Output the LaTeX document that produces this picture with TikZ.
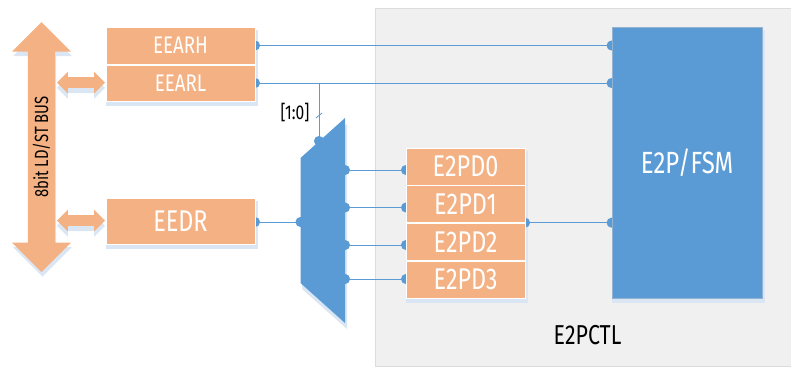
\documentclass[tikz,border=0pt]{standalone}
\usepackage{fontspec}
\setmainfont[FakeStretch=0.78]{Fira Sans}
\usetikzlibrary{arrows.meta,calc,positioning,shapes.arrows,shadows}
\definecolor{regorange}{HTML}{F4B183}
\definecolor{fsmblue}{HTML}{5B9BD5}
\definecolor{shadeblue}{HTML}{DAE6F3}
\definecolor{panelgray}{HTML}{F0F0F0}
\definecolor{panelline}{HTML}{DADCDE}
\pgfdeclarelayer{back}
\pgfdeclarelayer{wires}
\pgfsetlayers{back,wires,main}
\tikzset{
        block/.style = {draw=white, fill=regorange, rectangle, text=white,
            line width=0.6pt, inner sep=0pt, outer sep=0pt,
            minimum width=149*0.75pt},
        stackreg/.style = {block, minimum width=119*0.75pt, minimum height=37*0.75pt,
            font=\fontsize{22.5}{23}\selectfont},
        busarrow/.style = {double arrow, fill=regorange, inner xsep=0pt, inner ysep=3pt, outer sep=0pt,
            double arrow head extend=15*0.75pt,
            copy shadow={shadow xshift=0.75pt, shadow yshift=-3.5pt, fill=shadeblue, draw=none}},
        linkarrow/.style = {double arrow, fill=regorange, inner xsep=0pt, inner ysep=5*0.75pt, outer sep=0pt,
            minimum height=48*0.75pt, minimum width=21*0.75pt,
            double arrow head extend=5.5*0.75pt,
            copy shadow={shadow xshift=0pt, shadow yshift=-4pt, fill=shadeblue, draw=none}},
        wire/.style = {draw=fsmblue, line width=0.75pt,
            {Circle[length=7.5pt,width=7.5pt]}-{Circle[length=7.5pt,width=7.5pt]},
            shorten <=-3.75pt, shorten >=-3.75pt},
        tapwire/.style = {draw=fsmblue, line width=0.75pt,
            -{Circle[length=7.5pt,width=7.5pt]}, shorten >=-3.75pt},
        label/.style = {inner sep=0pt, text=black},
    }
\begin{document}
\begin{tikzpicture}[x=0.75pt,y=-0.75pt]
    \useasboundingbox (0,0) rectangle (791,369);

    % registers
    \node[block, minimum height=37*0.75pt, font=\fontsize{18}{19}\selectfont] (eearh) at (180.5,45.5) {EEARH};
    \node[block, minimum height=36*0.75pt, font=\fontsize{18}{19}\selectfont, below=0.75pt of eearh] (eearl) {EEARL};
    \node[block, minimum height=46*0.75pt, font=\fontsize{22.5}{23}\selectfont] (eedr) at (180.5,221) {EEDR};

    \node[stackreg] (e2pd0) at (465.5,166.5) {E2PD0};
    \node[stackreg, below=0.5pt of e2pd0] (e2pd1) {E2PD1};
    \node[stackreg, below=0.5pt of e2pd1] (e2pd2) {E2PD2};
    \node[stackreg, below=0.5pt of e2pd2] (e2pd3) {E2PD3};

    \node[rectangle, fill=fsmblue, draw=fsmblue!70!gray!70, line width=0.6pt, text=white,
          minimum width=150*0.75pt, minimum height=271*0.75pt, inner sep=0pt,
          font=\fontsize{23}{24}\selectfont] (fsm) at (687,162.5) {E2P/FSM};

    % bus and its links
    \node[busarrow, rotate=90, minimum height=250*0.75pt, minimum width=59*0.75pt,
          font=\fontsize{14.3}{15}\selectfont] (bus) at (41.5,147) {8bit LD/ST BUS};
    \node[linkarrow] (arl) at (81,82.5) {};
    \node[linkarrow] (adr) at (81,220.5) {};

    % mux
    \coordinate (muxin) at (300.5,222);
    \coordinate (muxsel) at (319,141);
    \coordinate (mux0) at (345,170);
    \coordinate (mux1) at (345,207.5);
    \coordinate (mux2) at (345,245);
    \coordinate (mux3) at (345,279);
    \coordinate (seltap) at (319,83);
    \fill[fsmblue] (300.5,158) -- (345,118) -- (345,323) -- (300.5,283) -- cycle;

    \node[label, font=\fontsize{15}{16}\selectfont] (selbits) at (295,112) {[1:0]};
    \node[label, font=\fontsize{20.5}{21}\selectfont] (ctlname) at (587.5,335) {E2PCTL};

    \begin{pgfonlayer}{back}
        \draw[panelline, fill=panelgray, line width=0.75pt] (375.5,8) rectangle (791,366);
        \foreach \n in {eearh,eearl,eedr,e2pd0,e2pd1,e2pd2,e2pd3,fsm}
            \fill[shadeblue] ($(\n.south west)+(0,5)$) rectangle ($(\n.north east)+(3,3)$);
        \fill[shadeblue] (302,164) -- (347,124) -- (347,329) -- (302,289) -- cycle;
    \end{pgfonlayer}

    \begin{pgfonlayer}{wires}
        \draw[wire] (eearh.east) -- (fsm.west |- eearh.east);
        \draw[wire] (eearl.east) -- (fsm.west |- eearl.east);
        \draw[wire] (eedr.east |- muxin) -- (muxin);
        \draw[tapwire] (seltap) -- (muxsel);
        \draw[fsmblue, line width=0.6pt] (316,118) -- (322,113);
        \draw[wire] (mux0) -- (e2pd0.west |- mux0);
        \draw[wire] (mux1) -- (e2pd1.west |- mux1);
        \draw[wire] (mux2) -- (e2pd2.west |- mux2);
        \draw[wire] (mux3) -- (e2pd3.west |- mux3);
        \draw[wire] (e2pd1.south east) -- (fsm.west |- e2pd1.south east);
    \end{pgfonlayer}
\end{tikzpicture}
\end{document}
